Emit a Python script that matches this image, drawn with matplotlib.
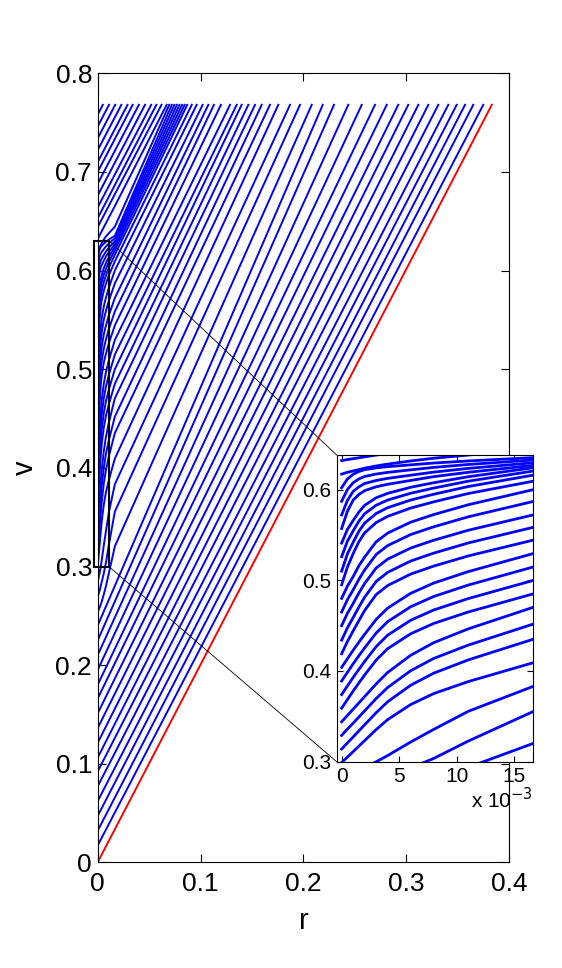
import numpy as np
import matplotlib.pyplot as plt
from matplotlib.patches import Rectangle, ConnectionPatch

plt.rcParams['font.family'] = ['Liberation Sans', 'DejaVu Sans']

v_top = 0.768

# boundary line (red)
edge_r = [0.0, 0.383]
edge_v = [0.0, 0.768]

# straight lines leaving the axis below the zoom box
low_v0 = [0.017, 0.032, 0.047, 0.062, 0.077, 0.092, 0.106, 0.121, 0.136, 0.151,
          0.166, 0.180, 0.195, 0.210, 0.225, 0.240]
low_rtop = [0.3747, 0.365, 0.357, 0.3489, 0.3407, 0.331, 0.3213, 0.3116, 0.3018, 0.2921,
            0.2809, 0.2695, 0.2566, 0.2435, 0.2296, 0.2187]

# straight lines leaving the axis above the zoom box
up_v0 = [0.644, 0.653, 0.664, 0.676, 0.688, 0.700, 0.710, 0.722, 0.734, 0.746, 0.758]
up_rtop = [0.062, 0.057, 0.052, 0.046, 0.040, 0.034, 0.029, 0.023, 0.017, 0.011, 0.005]

r_grid = [0, 0.0005, 0.001, 0.0015, 0.002, 0.003, 0.004, 0.006, 0.008, 0.011, 0.0167]
curve_v = [
    [0.632, 0.633, 0.634, 0.635, 0.636, 0.638, 0.640, 0.644, 0.648, 0.654, 0.6654],
    [0.617, 0.619, 0.6205, 0.622, 0.6235, 0.626, 0.628, 0.6315, 0.6345, 0.638, 0.6445],
    [0.602, 0.6115, 0.6169, 0.6199, 0.6219, 0.6239, 0.6252, 0.6272, 0.6292, 0.6315, 0.6352],
    [0.587, 0.600, 0.6075, 0.6117, 0.6144, 0.6171, 0.6189, 0.6217, 0.6244, 0.6276, 0.6326],
    [0.572, 0.588, 0.5979, 0.6030, 0.6066, 0.6100, 0.6123, 0.6158, 0.6192, 0.6233, 0.6296],
    [0.557, 0.576, 0.5884, 0.5946, 0.5988, 0.6030, 0.6058, 0.6100, 0.6142, 0.6190, 0.6267],
    [0.541, 0.556, 0.5659, 0.5752, 0.5826, 0.5909, 0.5958, 0.6025, 0.6075, 0.6141, 0.6241],
    [0.526, 0.543, 0.5544, 0.5652, 0.5733, 0.5827, 0.5884, 0.5959, 0.6016, 0.6092, 0.6205],
    [0.510, 0.529, 0.5418, 0.5540, 0.5630, 0.5736, 0.5800, 0.5884, 0.5948, 0.6033, 0.6160],
    [0.495, 0.5145, 0.5293, 0.5425, 0.5522, 0.5636, 0.5704, 0.5796, 0.5864, 0.5956, 0.6093],
    [0.480, 0.4935, 0.5040, 0.5160, 0.5256, 0.5424, 0.5520, 0.5640, 0.5724, 0.5832, 0.6000],
    [0.465, 0.4785, 0.4894, 0.5010, 0.5114, 0.5284, 0.5382, 0.5504, 0.5589, 0.5699, 0.5870],
    [0.450, 0.4635, 0.4744, 0.4860, 0.4964, 0.5135, 0.5233, 0.5355, 0.5441, 0.5551, 0.5722],
    [0.434, 0.4475, 0.4589, 0.4705, 0.4813, 0.4987, 0.5087, 0.5212, 0.5299, 0.5411, 0.5585],
    [0.419, 0.4325, 0.4441, 0.4555, 0.4667, 0.4842, 0.4942, 0.5068, 0.5156, 0.5268, 0.5444],
    [0.404, 0.4135, 0.4228, 0.4318, 0.4404, 0.4568, 0.4693, 0.4856, 0.4969, 0.5095, 0.5296],
    [0.389, 0.3985, 0.4079, 0.4168, 0.4255, 0.4418, 0.4544, 0.4708, 0.4821, 0.4947, 0.5148],
    [0.374, 0.3835, 0.3929, 0.4018, 0.4105, 0.4269, 0.4395, 0.4559, 0.4672, 0.4798, 0.5000],
    [0.359, 0.3685, 0.3779, 0.3868, 0.3956, 0.4120, 0.4246, 0.4410, 0.4524, 0.4650, 0.4852],
    [0.344, 0.3510, 0.3579, 0.3649, 0.3718, 0.3857, 0.3984, 0.4173, 0.4312, 0.4464, 0.4704],
    [0.329, 0.3360, 0.3425, 0.3493, 0.3560, 0.3696, 0.3818, 0.4003, 0.4138, 0.4285, 0.4519],
    [0.314, 0.3207, 0.3273, 0.3340, 0.3407, 0.3540, 0.3661, 0.3843, 0.3976, 0.4122, 0.4352],
    [0.299, 0.3051, 0.3111, 0.3172, 0.3233, 0.3354, 0.3464, 0.3630, 0.3751, 0.3883, 0.4093],
    [0.284, 0.2865, 0.2890, 0.2915, 0.2939, 0.2999, 0.3068, 0.3217, 0.3356, 0.3555, 0.3833],
    [0.269, 0.2708, 0.2725, 0.2742, 0.2759, 0.2803, 0.2846, 0.2932, 0.3036, 0.3227, 0.3556],
    [0.254, 0.2550, 0.2560, 0.2573, 0.2586, 0.2613, 0.2646, 0.2719, 0.2799, 0.2938, 0.3204],
]
curve_rtop = [0.067, 0.0695, 0.072, 0.0745, 0.077, 0.0795, 0.082, 0.0845, 0.087, 0.0914,
              0.0962, 0.102, 0.1075, 0.113, 0.1198, 0.1286, 0.1351, 0.1399, 0.1464, 0.1529,
              0.1594, 0.1674, 0.1755, 0.1869, 0.1966, 0.208]

# zoom box in main axes
box_r = [-0.0036, 0.0113]
box_v = [0.2995, 0.630]

fig = plt.figure(figsize=(5.62, 9.68), dpi=100)
ax = fig.add_axes([0.1738, 0.1092, 0.7324, 0.8151])

lw = 1.4
for v0, rt in zip(low_v0, low_rtop):
    ax.plot([0, rt], [v0, v_top], color='b', lw=lw)
for v0, rt in zip(up_v0, up_rtop):
    ax.plot([0, rt], [v0, v_top], color='b', lw=lw)
for vs, rt in zip(curve_v, curve_rtop):
    rr = list(r_grid) + [rt]
    vv = list(vs) + [v_top]
    ax.plot(rr, vv, color='b', lw=lw)
ax.plot(edge_r, edge_v, color='r', lw=lw)

ax.set_xlim(0, 0.4)
ax.set_ylim(0, 0.8)
ax.set_xticks([0, 0.1, 0.2, 0.3, 0.4])
ax.set_xticklabels(['0', '0.1', '0.2', '0.3', '0.4'])
ax.set_yticks([0, 0.1, 0.2, 0.3, 0.4, 0.5, 0.6, 0.7, 0.8])
ax.set_yticklabels(['0', '0.1', '0.2', '0.3', '0.4', '0.5', '0.6', '0.7', '0.8'])
ax.tick_params(direction='in', top=True, right=True, length=6, width=0.8,
               labelsize=19)
ax.tick_params(axis='x', pad=7)
ax.tick_params(axis='y', pad=4)
ax.set_xlabel('r', fontsize=21, labelpad=8)
ax.set_ylabel('v', fontsize=21, labelpad=12)
for s in ax.spines.values():
    s.set_linewidth(0.8)

rect = Rectangle((box_r[0], box_v[0]), box_r[1] - box_r[0], box_v[1] - box_v[0],
                 fill=False, ec='k', lw=1.5, clip_on=False, zorder=5)
ax.add_patch(rect)

# inset
axi = fig.add_axes([0.5991, 0.2131, 0.3498, 0.3168])
for vs in curve_v:
    axi.plot(r_grid, vs, color='b', lw=2.0)
axi.set_xlim(-0.00043, 0.01666)
axi.set_ylim(0.3, 0.638)
axi.set_xticks([0, 0.005, 0.01, 0.015])
axi.set_xticklabels(['0', '5', '10', '15'])
axi.set_yticks([0.3, 0.4, 0.5, 0.6])
axi.set_yticklabels(['0.3', '0.4', '0.5', '0.6'])
axi.tick_params(direction='in', top=True, right=True, length=4, width=0.8,
                labelsize=15, pad=4)
axi.text(1.0, -0.15, r'x 10$^{-3}$', transform=axi.transAxes, ha='right',
         va='baseline', fontsize=15)

for vcorner, ycorner in [(box_v[1], 1.0), (box_v[0], 0.0)]:
    con = ConnectionPatch(xyA=(box_r[1], vcorner), coordsA=ax.transData,
                          xyB=(0.0, ycorner), coordsB=axi.transAxes,
                          color='k', lw=0.6)
    fig.add_artist(con)

fig.savefig('out.png', dpi=100)
